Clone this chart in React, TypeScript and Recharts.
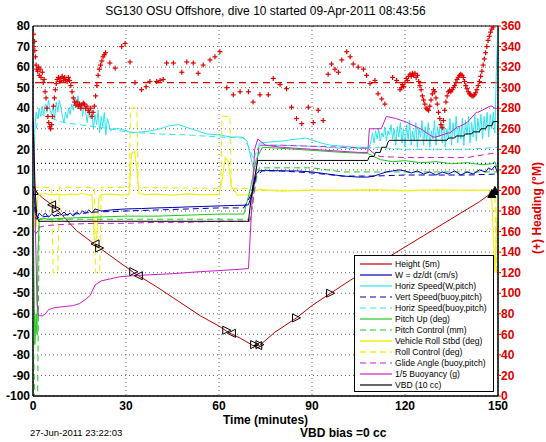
import React from 'react';
import { ComposedChart, Line, Scatter, XAxis, YAxis, CartesianGrid, ReferenceLine, ReferenceArea } from 'recharts';

const FONT = '"Liberation Sans", Arial, Helvetica, sans-serif';
const TITLE = 'SG130 OSU Offshore, dive 10 started 09-Apr-2011 08:43:56';
const X_LABEL = 'Time (minutes)';
const RIGHT_LABEL = '(+) Heading (\u00B0M)';
const STAMP = '27-Jun-2011 23:22:03';
const VBD_NOTE = 'VBD bias =0 cc';

const xTicks = [0, 30, 60, 90, 120, 150];
const leftTicks = [-100, -90, -80, -70, -60, -50, -40, -30, -20, -10, 0, 10, 20, 30, 40, 50, 60, 70, 80];
const rightTicks = [0, 20, 40, 60, 80, 100, 120, 140, 160, 180, 200, 220, 240, 260, 280, 300, 320, 340, 360];

const headingMean = 305;
const blueRef = 13.2;

// Height (5m)
const heightT = [0, 0.5, 3, 6.5, 10, 14, 20.6, 27, 33, 40, 47, 54, 60, 63, 67, 71, 73, 78, 85, 90, 96, 102, 108, 114, 120, 126, 132, 138, 144, 149];
const heightV = [0, 0, -3.5, -7.5, -13, -19.5, -27, -34, -40.5, -47, -54, -61, -66, -69, -72, -75.5, -75.5, -69, -62, -56, -50, -44, -38.5, -33, -27.5, -22, -16.5, -11, -5.5, 0];
const markT = [0.3, 6, 7.5, 20, 21.5, 32.5, 34, 62.5, 64, 71.5, 72.5, 73.2, 85, 96, 148, 149];
const markV = [0, -7, -9, -26, -28, -39.5, -41.5, -68, -69.5, -75, -75.5, -75, -62, -50, -1.5, 0];
const markDir = ['u', 'l', 'r', 'l', 'r', 'r', 'l', 'r', 'l', 'r', 'l', 'r', 'r', 'r', 'f', 'f'];

// W = dz/dt (cm/s)
const wT = [0, 0.5, 1, 1.5, 2, 3, 4, 5, 6, 7, 8, 9, 10, 11, 12, 13, 14, 15, 16, 17, 18, 19, 20, 22, 25, 30, 35, 40, 45, 50, 55, 60, 65, 68, 69.5, 71, 72, 73, 75, 80, 85, 90, 95, 100, 105, 108, 110, 112, 114, 116, 118, 120, 122, 124, 126, 128, 130, 132, 134, 136, 138, 140, 142, 144, 146, 147, 148, 149, 150];
const wV = [0, -5, -12, -13, -11, -12.5, -11, -13, -11.5, -12.5, -11, -12, -10.5, -12, -11, -12.5, -10.5, -11.5, -10, -11, -9.5, -11, -9, -10, -9.5, -9, -8.8, -8.5, -8.3, -8, -7.8, -7.5, -7.3, -7.2, -7, 0, 8, 9.5, 9.8, 9.5, 9.5, 9, 8, 7, 6.5, 6.5, 7, 8, 9, 9.5, 10, 9.5, 8.5, 9.5, 8, 9, 7.5, 9, 8, 9.5, 7.5, 9, 8, 10, 9, 11, 10, 12, 8];

// Vert Speed(buoy,pitch)
const vsT = [0.5, 1, 2, 5, 10, 20, 30, 40, 50, 60, 68, 70, 72, 74, 80, 90, 100, 110, 120, 130, 140, 150];
const vsV = [-8, -14, -13, -12.5, -12, -10.5, -10, -9.5, -9, -8.5, -8.5, -3, 7, 9.5, 9.5, 8.5, 7, 7, 7.5, 7.5, 7.5, 8];

// Horiz Speed(W,pitch)
const hsT = [0, 0.3, 0.6, 1, 1.5, 2, 2.5, 3, 3.5, 4, 4.5, 5, 5.5, 6, 6.5, 7, 7.5, 8, 8.5, 9, 9.5, 10, 10.5, 11, 11.5, 12, 12.5, 13, 13.5, 14, 14.5, 15, 15.5, 16, 16.5, 17, 17.5, 18, 18.5, 19, 19.5, 20, 20.5, 21, 21.5, 22, 22.5, 23, 23.5, 24, 25, 26, 28, 30, 32, 35, 38, 41, 44, 47, 50, 53, 56, 60, 64, 67, 68, 69, 70, 71, 72, 73, 76, 80, 85, 88, 90, 93, 96, 100, 104, 108,
  108.5, 109, 109.5, 110, 110.5, 111, 111.5, 112, 112.5, 113, 113.5, 114, 114.5, 115, 115.5, 116, 116.5, 117, 117.5, 118, 118.5, 119, 119.5, 120, 120.5, 121, 121.5, 122, 122.5, 123, 123.5, 124, 124.5, 125, 125.5, 126, 126.5, 127, 127.5, 128, 128.5, 129, 129.5, 130, 130.5, 131, 131.5, 132, 132.5, 133, 133.5, 134, 134.5, 135, 135.5, 136, 136.5, 137, 137.5, 138, 138.5, 139, 139.5, 140, 140.5, 141, 141.5, 142, 142.5, 143, 143.5, 144, 144.5, 145, 145.5, 146, 146.5, 147, 147.5, 148, 148.5, 149, 149.5, 150];
const hsV = [0, 10, 30, 38, 35, 40, 36, 41, 37, 42, 38, 44, 39, 37, 41, 35, 43, 38, 44, 40, 36, 33, 38, 35, 40, 37, 42, 39, 45, 41, 46, 40, 43, 36, 42, 38, 33, 40, 35, 39, 30, 37, 32, 39, 28, 36, 31, 38, 27, 35, 29, 30, 30, 29, 28, 28.5, 29, 30, 31.5, 32, 30.5, 29, 27.5, 27, 26, 26, 25.5, 24, 18, 11, 12, 23, 23.5, 24, 25, 25.5, 24.5, 23, 22, 21.5, 21, 21,
  21, 24, 28, 23, 29, 25, 30, 24, 28, 26, 31, 24, 29, 27, 32, 25, 30, 22, 31, 26, 33, 23, 30, 21, 32, 25, 34, 22, 29, 24, 33, 21, 30, 26, 34, 22, 31, 24, 33, 21, 29, 25, 34, 22, 31, 26, 35, 23, 32, 21, 30, 25, 35, 22, 33, 26, 36, 23, 31, 25, 35, 22, 34, 27, 36, 23, 33, 26, 37, 24, 35, 28, 37, 25, 36, 29, 38, 26, 37, 30, 38, 28, 60, 80];

// Horiz Speed(buoy,pitch)
const hbT = [1, 2, 4, 6, 8, 10, 15, 20, 25, 30, 35, 40, 50, 60, 68, 70, 71, 73, 80, 90, 100, 108, 110, 120, 130, 140, 150];
const hbV = [30, 38, 36, 35, 34, 33, 32, 31, 30, 28.5, 28, 27.5, 27, 26, 25.5, 20, 15, 22, 22, 21.5, 20.5, 20.5, 21, 20, 20, 20, 21];

// Pitch Up (deg)
const pT = [0, 0.3, 0.6, 1, 1.3, 1.6, 2, 3, 5, 10, 20, 30, 40, 50, 60, 68, 70, 72, 74, 80, 90, 100, 108, 112, 116, 120, 125, 130, 135, 140, 145, 148, 149, 150];
const pV = [0, -40, -75, -60, -70, -30, -14, -13.5, -14, -13.5, -13, -12.5, -12.5, -12, -11.5, -11.5, 0, 15, 21, 20.5, 19.5, 18.5, 18, 15, 14, 14.5, 13.5, 14, 13, 13.5, 12.5, 13, 14, 10];

// Pitch Control (mm)
const pcT = [0, 0.5, 1, 1.5, 2, 3, 70, 71, 72, 73, 90, 100, 110, 150];
const pcV = [-60, -100, -100, -100, -14, -14, -14, -5, 5, 11, 11, 9, 9, 9];

// Vehicle Roll Stbd (deg)
const rollT = [0, 0.3, 0.6, 1, 1.5, 2, 4, 6, 8, 10, 12, 14, 16, 18, 19, 19.8, 20.5, 21.2, 22, 25, 28, 30, 31, 31.8, 32.8, 33.5, 34.2, 36, 40, 45, 50, 55, 58, 60, 61, 62, 63, 64, 66, 68, 70, 71, 72, 73, 75, 80, 90, 100, 110, 120, 130, 140, 147, 148, 149, 149.5, 150];
const rollV = [0, -20, -5, -18, -3, -2, -1.5, -2.2, -1.8, -2.3, -1.7, -2, -1.5, -2.2, -2, -24, -24, -4, -2, -1.8, -2.2, -2, -2, 18, 19, 10, -1.5, -2, -1.8, -2.3, -1.7, -2.2, -2, -2, 5, 16, 14, 2, -2.3, -2.1, -2, -1, 0, 0.5, 0.3, -0.3, 0.2, 0, 0.4, -0.2, 0.3, 0, 0, -5, -40, -20, 0];

// Roll Control (deg)
const rcT = [0, 6, 6.5, 8, 8.5, 19.8, 20.2, 21.5, 22, 31, 31.5, 33.5, 34, 60.5, 61, 63.5, 64, 70, 72, 149, 149.5, 150];
const rcV = [1.5, 1.5, -40, -40, 1.5, 1.5, -40, -40, 1.5, 1.5, 40, 40, 1.5, 1, 36, 36, 1, 1, 0, 0, -40, -40];

// Glide Angle (buoy,pitch)
const gT = [0, 0.5, 1, 2, 3, 5, 10, 20, 30, 40, 50, 60, 70, 71, 72, 73, 80, 90, 100, 108, 110, 112, 120, 130, 140, 148, 150];
const gV = [-20, -20, -21, -18, -17.5, -17, -16.5, -16, -16, -15.5, -15.5, -15, -15, -5, 10, 22, 22, 21.5, 21, 20.5, 18, 16.5, 16, 16, 16, 18, 18];

// 1/5 Buoyancy (g)
const bT = [0, 0.3, 0.8, 1.3, 1.8, 3, 4, 5, 7, 10, 13, 15, 17, 18.5, 20, 22, 25, 28, 32, 38, 45, 54, 60, 65, 69.5, 70.5, 71.5, 72.5, 75, 80, 90, 100, 105, 108, 108.5, 112, 112.5, 114, 117, 120, 125, 129, 130, 134, 134.5, 137, 137.5, 140, 143, 143.5, 147.5, 148, 149, 150];
const bV = [40, 20, -20, -55, -61, -61, -60, -58, -57, -56.5, -56, -55, -53, -51, -46, -44, -43, -42, -41.5, -41, -40.5, -39.5, -39, -38.5, -38, -10, 20, 25, 22, 21, 20, 19, 18.5, 18.5, 30, 30, 30.5, 36, 35, 33.5, 30, 26, 26, 28, 28, 31, 31, 33, 38, 38, 41, 41, 40, 40];

// VBD (10 cc)
const vbdT = [0, 0.3, 0.7, 1.2, 1.8, 10, 30, 50, 69.5, 70.5, 72.5, 100, 108, 108.5, 110, 110.5, 112, 112.5, 114, 114.5, 115, 133.5, 134, 136, 136.5, 139, 139.5, 141.5, 142, 144, 144.5, 146, 146.5, 148, 148.5, 150];
const vbdV = [35, 20, 0, -12, -15, -15, -15, -15, -15, -2, 14.6, 14.6, 14.6, 16.5, 16.5, 18.5, 18.5, 21, 21, 23.5, 24.4, 24.4, 25.5, 25.5, 26.5, 26.5, 27.5, 27.5, 28.5, 28.5, 30, 30, 31.5, 31.5, 33.5, 33.5];

// Heading (deg M), right axis
const headingPts: [number, number][] = [
  [0.2, 352], [0.3, 340], [0.5, 345], [0.6, 336], [0.8, 330], [1.0, 322], [1.2, 318], [1.5, 316], [1.8, 320], [2.0, 312], [2.3, 318], [2.6, 310], [3.0, 315], [3.3, 305], [3.6, 308], [3.9, 296], [4.2, 290], [4.5, 280], [4.8, 272], [5.1, 266], [5.4, 262], [5.7, 260], [6.0, 264], [6.3, 272], [6.6, 282], [6.9, 290], [7.2, 298], [7.5, 304], [7.8, 308], [8.2, 310], [8.6, 306], [9.0, 309], [9.4, 311], [9.8, 307], [10.2, 310], [10.6, 308], [11.0, 306], [11.4, 310], [11.8, 307], [12.2, 302], [12.6, 296], [13.0, 290], [13.4, 286], [13.8, 283], [14.2, 286], [14.6, 282], [15.0, 284], [15.4, 280], [15.8, 283], [16.2, 285], [16.6, 284], [17.0, 280], [17.4, 282], [17.8, 278], [18.2, 276], [18.6, 280], [19.0, 272], [19.4, 276], [19.8, 282], [20.2, 292], [20.6, 302], [21.0, 312], [21.4, 318], [21.8, 322], [22.2, 326], [22.6, 330], [23.0, 332], [23.4, 334],
  [24.8, 324], [26.5, 319], [28.6, 340], [29.7, 343], [31.3, 325], [32.9, 305], [35, 298], [36.5, 301], [37.7, 306], [39.9, 306], [41, 307], [42, 308], [43.1, 324], [45.3, 324], [48, 315], [49.6, 325], [51.7, 324], [53.3, 314],
  [54.9, 322], [57.1, 327], [58.7, 330], [60.3, 335], [62.5, 300], [64.6, 293], [66.8, 296], [69.5, 296], [71, 286], [73.2, 293], [75.9, 293], [77.5, 309], [79.7, 303], [81.8, 299], [83.4, 281], [85, 270], [86.7, 265], [88.8, 281], [90.4, 266], [92, 278], [93.6, 268], [95.2, 313], [96.3, 323], [97.4, 318], [98.5, 315], [99.6, 327], [101.2, 335], [102.3, 330], [103.3, 323], [104.9, 320], [106.6, 318], [107.6, 312], [108.7, 304], [110.3, 307], [111.3, 294], [112.5, 289], [113.5, 284], [116, 310], [117.3, 307], [118.4, 298],
  [118.8, 300], [119.2, 303], [119.6, 301], [120, 305], [120.4, 309], [120.8, 307], [121.2, 311], [121.6, 313], [122, 311], [122.4, 314], [122.8, 312], [123.2, 314], [123.6, 310], [124, 312], [124.4, 306], [124.8, 302], [125.2, 298], [125.6, 292], [126, 288], [126.4, 284], [126.8, 280], [127.2, 279], [127.6, 278], [128, 282], [128.4, 288], [128.8, 294], [129.2, 298], [129.6, 296], [130, 290], [130.4, 284], [130.8, 276], [131.2, 270], [131.6, 264], [132, 261], [132.4, 268], [132.8, 278], [133.2, 286], [133.6, 292], [134, 296], [134.4, 297], [134.8, 296], [135.2, 298], [135.6, 300], [136, 302], [136.4, 305], [136.8, 308], [137.2, 310], [137.6, 312], [138, 313], [138.4, 312], [138.8, 310], [139.2, 306], [139.6, 302], [140, 299], [140.4, 296], [140.8, 294], [141.2, 293], [141.6, 292], [142, 292], [142.4, 293], [142.8, 295], [143.2, 298], [143.6, 302], [144, 306], [144.4, 311], [144.8, 316], [145.2, 322], [145.6, 328], [146, 334], [146.4, 340], [146.8, 346], [147.2, 350], [147.6, 354], [148, 357], [148.4, 359]
];

const legendItems = [
  { name: 'Height (5m)', color: '#c00000', dash: '' },
  { name: 'W = dz/dt (cm/s)', color: '#0000b4', dash: '' },
  { name: 'Horiz Speed(W,pitch)', color: '#2ce4f0', dash: '' },
  { name: 'Vert Speed(buoy,pitch)', color: '#0000b4', dash: '6 4' },
  { name: 'Horiz Speed(buoy,pitch)', color: '#2ce4f0', dash: '6 4' },
  { name: 'Pitch Up (deg)', color: '#1ec81e', dash: '' },
  { name: 'Pitch Control (mm)', color: '#1ec81e', dash: '6 4' },
  { name: 'Vehicle Roll Stbd (deg)', color: '#f0f020', dash: '' },
  { name: 'Roll Control (deg)', color: '#f0f020', dash: '6 4' },
  { name: 'Glide Angle (buoy,pitch)', color: '#c81ec8', dash: '6 4' },
  { name: '1/5 Buoyancy (g)', color: '#c81ec8', dash: '' },
  { name: 'VBD (10 cc)', color: '#000000', dash: '' },
];

const pts = (ts: number[], vs: number[]) => ts.map((t, i) => ({ t, v: vs[i] }));
const heightData = pts(heightT, heightV);
const markData = markT.map((t, i) => ({ t, v: markV[i], d: markDir[i] }));
const headingData = headingPts.map(([t, v]) => ({ t, v }));

const PlusShape = (props: any) => {
  const { cx, cy } = props;
  if (cx == null || cy == null) return null;
  return (
    <g stroke="#e00000" strokeWidth={1.2}>
      <line x1={cx - 2.5} y1={cy} x2={cx + 2.5} y2={cy} />
      <line x1={cx} y1={cy - 2.5} x2={cx} y2={cy + 2.5} />
    </g>
  );
};

const TriShape = (props: any) => {
  const { cx, cy, payload } = props;
  if (cx == null || cy == null) return null;
  const d = payload?.d;
  const s = 4;
  let path = '';
  if (d === 'l') path = `M${cx - s},${cy} L${cx + s},${cy - s} L${cx + s},${cy + s} Z`;
  else if (d === 'r') path = `M${cx + s},${cy} L${cx - s},${cy - s} L${cx - s},${cy + s} Z`;
  else path = `M${cx},${cy - s} L${cx - s},${cy + s} L${cx + s},${cy + s} Z`;
  return <path d={path} fill={d === 'f' ? '#000' : 'none'} stroke="#000" strokeWidth={1} />;
};

const tickStyle = { fill: '#000', fontSize: 12, fontWeight: 'bold' as const, fontFamily: FONT };

export default function App() {
  return (
    <div style={{ position: 'absolute', left: 0, top: 0, width: 546, height: 442, background: '#fff', fontFamily: FONT }}>
      <ComposedChart width={546} height={442} margin={{ top: 26, right: 0, bottom: 22, left: 0 }}>
        <XAxis type="number" dataKey="t" domain={[0, 150]} ticks={xTicks} interval={0} allowDataOverflow
          height={24} tickLine={false} tickSize={3} tickMargin={2} axisLine={{ stroke: '#000' }} tick={tickStyle} />
        <YAxis yAxisId="left" type="number" dataKey="v" domain={[-100, 80]} ticks={leftTicks} interval={0} allowDataOverflow
          width={33} tickLine={false} tickSize={2} tickMargin={1} axisLine={{ stroke: '#000' }} tick={tickStyle} />
        <YAxis yAxisId="right" orientation="right" type="number" dataKey="v" domain={[0, 360]} ticks={rightTicks} interval={0} allowDataOverflow
          width={48} tickLine={{ stroke: '#dd0000' }} tickSize={3} tickMargin={0} axisLine={{ stroke: '#000' }}
          tick={{ ...tickStyle, fill: '#dd0000' }} />
        <CartesianGrid yAxisId="left" stroke="#666" strokeDasharray="1 3" />
        <ReferenceLine yAxisId="right" y={headingMean} stroke="#dd0000" strokeDasharray="7 5" strokeWidth={1.2} />
        <ReferenceLine yAxisId="left" y={blueRef} stroke="#0000b4" strokeDasharray="1 3" strokeWidth={1.2} />

        <Scatter yAxisId="right" data={headingData} dataKey="v" shape={<PlusShape />} isAnimationActive={false} />

        <Line yAxisId="left" data={heightData} dataKey="v" stroke="#c00000" strokeWidth={1} dot={false} isAnimationActive={false} type="linear" />
        <Line yAxisId="left" data={pts(hsT, hsV)} dataKey="v" stroke="#2ce4f0" strokeWidth={1} dot={false} isAnimationActive={false} type="linear" />
        <Line yAxisId="left" data={pts(hbT, hbV)} dataKey="v" stroke="#2ce4f0" strokeDasharray="6 4" strokeWidth={1} dot={false} isAnimationActive={false} type="linear" />
        <Line yAxisId="left" data={pts(rollT, rollV)} dataKey="v" stroke="#f0f020" strokeWidth={1.2} dot={false} isAnimationActive={false} type="linear" />
        <Line yAxisId="left" data={pts(rcT, rcV)} dataKey="v" stroke="#f0f020" strokeDasharray="6 4" strokeWidth={1.2} dot={false} isAnimationActive={false} type="linear" />
        <Line yAxisId="left" data={pts(pT, pV)} dataKey="v" stroke="#1ec81e" strokeWidth={1} dot={false} isAnimationActive={false} type="linear" />
        <Line yAxisId="left" data={pts(pcT, pcV)} dataKey="v" stroke="#1ec81e" strokeDasharray="6 4" strokeWidth={1} dot={false} isAnimationActive={false} type="linear" />
        <Line yAxisId="left" data={pts(gT, gV)} dataKey="v" stroke="#c81ec8" strokeDasharray="6 4" strokeWidth={1} dot={false} isAnimationActive={false} type="linear" />
        <Line yAxisId="left" data={pts(bT, bV)} dataKey="v" stroke="#c81ec8" strokeWidth={1} dot={false} isAnimationActive={false} type="linear" />
        <Line yAxisId="left" data={pts(vsT, vsV)} dataKey="v" stroke="#0000b4" strokeDasharray="6 4" strokeWidth={1} dot={false} isAnimationActive={false} type="linear" />
        <Line yAxisId="left" data={pts(wT, wV)} dataKey="v" stroke="#0000b4" strokeWidth={1} dot={false} isAnimationActive={false} type="linear" />
        <Line yAxisId="left" data={pts(vbdT, vbdV)} dataKey="v" stroke="#000" strokeWidth={1} dot={false} isAnimationActive={false} type="linear" />
        <Scatter yAxisId="left" data={markData} dataKey="v" shape={<TriShape />} isAnimationActive={false} />

        <ReferenceArea yAxisId="left" x1={0} x2={150} y1={-100} y2={80} fill="none" stroke="#000" strokeWidth={1} />
      </ComposedChart>

      <div style={{ position: 'absolute', left: 0, width: 531, top: 4, textAlign: 'center', fontSize: 12, color: '#000', whiteSpace: 'nowrap' }}>{TITLE}</div>
      <div style={{ position: 'absolute', left: 0, width: 531, top: 413, textAlign: 'center', fontSize: 12, fontWeight: 'bold', color: '#000' }}>{X_LABEL}</div>
      <div style={{ position: 'absolute', left: 30, top: 427, fontSize: 9.5, color: '#000', whiteSpace: 'nowrap' }}>{STAMP}</div>
      <div style={{ position: 'absolute', left: 300, top: 426, fontSize: 12, fontWeight: 'bold', color: '#000', whiteSpace: 'nowrap' }}>{VBD_NOTE}</div>
      <div style={{ position: 'absolute', left: 537, top: 208, width: 0, height: 0 }}>
        <div style={{ position: 'absolute', left: 0, top: 0, transform: 'translate(-50%, -50%) rotate(-90deg)', fontSize: 12, fontWeight: 'bold', color: '#dd0000', whiteSpace: 'nowrap' }}>{RIGHT_LABEL}</div>
      </div>

      <svg style={{ position: 'absolute', left: 354, top: 255 }} width={141} height={138}>
        <rect x={0.5} y={0.5} width={139} height={136} fill="#fff" stroke="#000" strokeWidth={1} />
        {legendItems.map((it, i) => {
          const y = 9 + i * 11;
          return (
            <g key={it.name}>
              <line x1={6} x2={38} y1={y} y2={y} stroke={it.color} strokeWidth={it.color === '#f0f020' ? 1.6 : 1.2} strokeDasharray={it.dash || undefined} />
              <text x={41} y={y + 3} fontSize={8.6} fontFamily={FONT} fill="#000">{it.name}</text>
            </g>
          );
        })}
      </svg>
    </div>
  );
}
